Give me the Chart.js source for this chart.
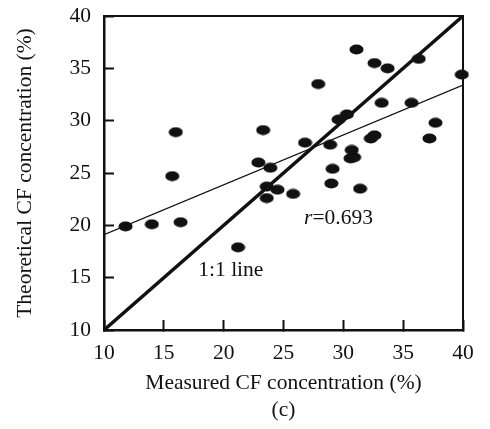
<!DOCTYPE html>
<html lang="en">
<head>
  <meta charset="UTF-8">
  <title>Measured vs theoretical CF concentration</title>
  <script src="https://cdn.jsdelivr.net/npm/chart.js@4.4.0/dist/chart.umd.min.js"></script>
  <style>
    html, body { margin: 0; padding: 0; background: #fff; }
    #wrap { width: 490px; height: 429px; }
  </style>
</head>
<body>
<div id="wrap"><canvas id="chart"></canvas></div>
<script>
  // measured (x) and theoretical (y) CF concentration, %
  const measured = [11.8, 14.0, 16.4, 15.7, 16.0, 21.2, 23.3, 22.9, 23.9, 23.6, 24.5, 23.6,
                    25.8, 26.8, 27.9, 28.9, 29.1, 29.0, 29.6, 30.3, 30.6, 30.9, 30.7, 31.4,
                    31.1, 32.3, 32.6, 32.6, 33.2, 33.7, 35.7, 36.3, 37.2, 37.7, 39.9];
  const theoretical = [19.9, 20.1, 20.3, 24.7, 28.9, 17.9, 29.1, 26.0, 25.5, 23.7, 23.4, 22.6,
                       23.0, 27.9, 33.5, 27.7, 25.4, 24.0, 30.1, 30.6, 26.4, 26.5, 27.2, 23.5,
                       36.8, 28.3, 28.6, 35.5, 31.7, 35.0, 31.7, 35.9, 28.3, 29.8, 34.4];
  const oneToOne = [[10, 10], [40, 40]];
  const fitLine = [[10, 19.1], [40, 33.4]];
  const ticks = [10, 15, 20, 25, 30, 35, 40];
  const notes = [
    { text: '1:1 line', x: 20.6, y: 15.7 },
    { text: '=0.693', x: 29.6, y: 20.7, italic: 'r' }
  ];

  const FONT = '"Liberation Serif", "Times New Roman", serif';
  const SIZE = 21.5;

  // black ellipse marker
  const dot = document.createElement('canvas');
  dot.width = 15; dot.height = 11;
  const dctx = dot.getContext('2d');
  dctx.fillStyle = '#111';
  dctx.beginPath();
  dctx.ellipse(7.5, 5.5, 7, 5, 0, 0, Math.PI * 2);
  dctx.fill();

  const toPts = arr => arr.map(p => ({ x: p[0], y: p[1] }));

  const framePlugin = {
    id: 'frame',
    afterDraw(chart) {
      const { ctx, chartArea: a, scales } = chart;
      ctx.save();
      ctx.strokeStyle = '#111';
      ctx.lineWidth = 2;
      ctx.strokeRect(a.left, a.top, a.right - a.left, a.bottom - a.top);
      ctx.fillStyle = '#111';
      ctx.textBaseline = 'middle';
      notes.forEach(n => {
        const px = scales.x.getPixelForValue(n.x), py = scales.y.getPixelForValue(n.y);
        if (n.italic) {
          ctx.font = 'italic ' + SIZE + 'px ' + FONT;
          const w1 = ctx.measureText(n.italic).width;
          ctx.font = SIZE + 'px ' + FONT;
          const w2 = ctx.measureText(n.text).width;
          const x0 = px - (w1 + w2) / 2;
          ctx.font = 'italic ' + SIZE + 'px ' + FONT;
          ctx.textAlign = 'left';
          ctx.fillText(n.italic, x0, py);
          ctx.font = SIZE + 'px ' + FONT;
          ctx.fillText(n.text, x0 + w1, py);
        } else {
          ctx.font = SIZE + 'px ' + FONT;
          ctx.textAlign = 'center';
          ctx.fillText(n.text, px, py);
        }
      });
      ctx.restore();
    }
  };

  new Chart(document.getElementById('chart'), {
    type: 'scatter',
    data: {
      datasets: [
        {
          type: 'line', data: toPts(oneToOne), borderColor: '#111', borderWidth: 3.5,
          pointRadius: 0, fill: false
        },
        {
          type: 'line', data: toPts(fitLine), borderColor: '#111', borderWidth: 1.3,
          pointRadius: 0, fill: false
        },
        {
          data: measured.map((v, i) => ({ x: v, y: theoretical[i] })),
          pointStyle: dot, clip: false
        }
      ]
    },
    options: {
      responsive: true,
      maintainAspectRatio: false,
      animation: false,
      layout: { padding: { top: 16, right: 27, left: 0, bottom: 0 } },
      plugins: { legend: { display: false }, tooltip: { enabled: false } },
      scales: {
        x: {
          type: 'linear', min: 10, max: 40,
          afterBuildTicks: s => { s.ticks = ticks.map(v => ({ value: v })); },
          afterFit: s => { s.height = 99; s.paddingLeft = 0; s.paddingRight = 0; },
          grid: { drawOnChartArea: false, tickLength: -10, tickWidth: 2, color: '#111' },
          border: { color: '#111', width: 2.5 },
          ticks: { color: '#111', padding: 20, font: { family: FONT, size: SIZE }, maxRotation: 0 },
          title: {
            display: true, text: ['Measured CF concentration (%)', '(c)'], color: '#111',
            font: { family: FONT, size: SIZE, lineHeight: 1.26 }, padding: { top: 0, bottom: 5 }
          }
        },
        y: {
          type: 'linear', min: 10, max: 40,
          afterBuildTicks: s => { s.ticks = ticks.map(v => ({ value: v })); },
          afterFit: s => { s.width = 104; s.paddingTop = 0; s.paddingBottom = 0; },
          grid: { drawOnChartArea: false, tickLength: -10, tickWidth: 2, color: '#111' },
          border: { color: '#111', width: 2.5 },
          ticks: { color: '#111', padding: 23, font: { family: FONT, size: SIZE } },
          title: {
            display: true, text: 'Theoretical CF concentration (%)', color: '#111',
            font: { family: FONT, size: SIZE, lineHeight: 1.2 }, padding: { top: 12, bottom: 0 }
          }
        }
      }
    },
    plugins: [framePlugin]
  });
</script>
</body>
</html>
